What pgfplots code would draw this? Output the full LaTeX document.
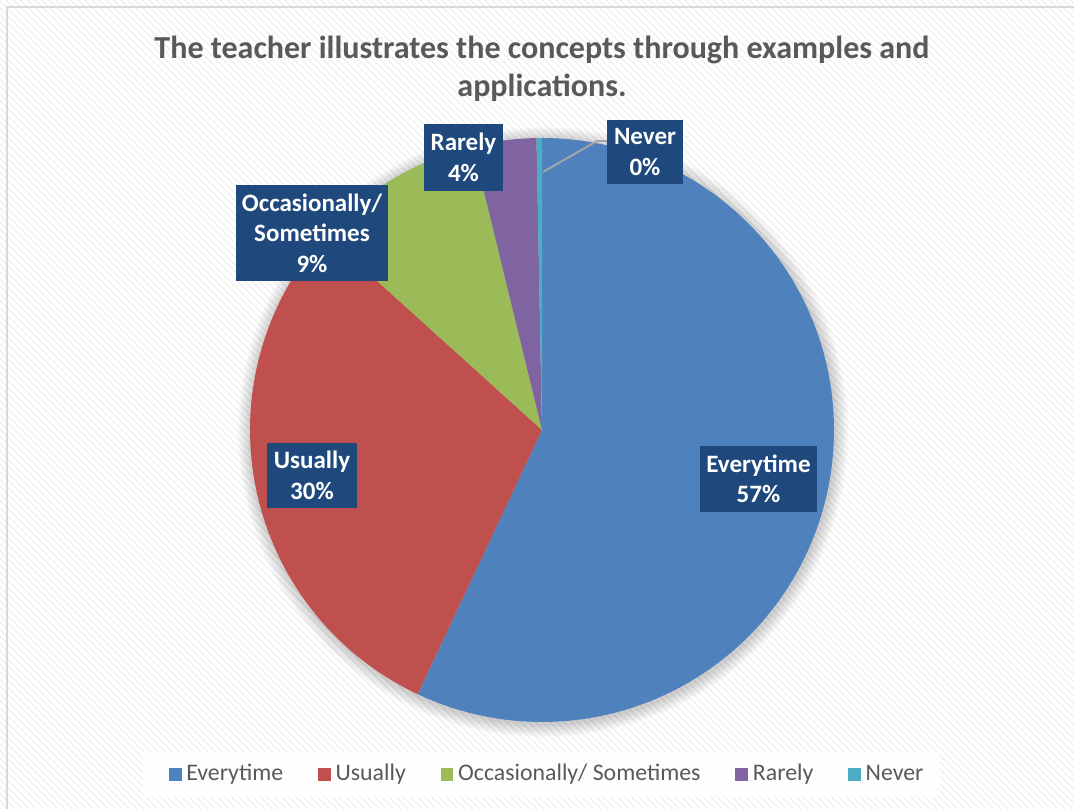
\documentclass[border=0pt]{standalone}
\usepackage{pgfplots}
\pgfplotsset{compat=1.18}
\usepackage{fontspec}
\setmainfont{Carlito}
\usetikzlibrary{patterns}
\definecolor{cEvery}{HTML}{4F81BD}
\definecolor{cUsual}{HTML}{C0504D}
\definecolor{cOcc}{HTML}{9BBB59}
\definecolor{cRare}{HTML}{8064A2}
\definecolor{cNever}{HTML}{4BACC6}
\definecolor{lblue}{HTML}{1F497D}
\definecolor{tgray}{HTML}{595959}
% shares in percent
\def\vEvery{57.0}
\def\vUsual{29.7}
\def\vOcc{9.5}
\def\vRare{3.5}
\def\vNever{0.3}
\pgfmathsetmacro\cA{0}
\pgfmathsetmacro\cB{\cA+\vEvery}
\pgfmathsetmacro\cC{\cB+\vUsual}
\pgfmathsetmacro\cD{\cC+\vOcc}
\pgfmathsetmacro\cE{\cD+\vRare}
\pgfmathsetmacro\cF{\cE+\vNever}
\begin{document}
\begin{tikzpicture}
\begin{axis}[name=ax, at={(0,0)}, anchor=south west, scale only axis,
  width=451.08pt, height=339.36pt, xmin=0, xmax=1074, ymin=0, ymax=808,
  enlargelimits=false, hide axis, clip=false,
  legend columns=-1,
  legend style={at={(0.5107,0.0415)}, anchor=center, draw=none, fill=none,
    font=\fontsize{10}{12}\selectfont, text=tgray,
    /tikz/every even column/.append style={column sep=12.6pt},
    /tikz/every odd column/.append style={column sep=0pt}},
  legend image code/.code={\fill[#1] (0pt,-2.7pt) rectangle (5.4pt,2.7pt);}]
% background
\fill[white] (axis cs:0,0) rectangle (axis cs:1074,808);
\fill[pattern=north west lines, pattern color=black!7] (axis cs:0,0) rectangle (axis cs:1074,808);
\draw[black!15, line width=0.8pt] (axis cs:7,-20) -- (axis cs:7,801) -- (axis cs:1100,801);
% title
\node[text=tgray, align=center, font=\bfseries\fontsize{13.45}{15.8}\selectfont] at (axis cs:542,739.5)
  {The teacher illustrates the concepts through examples and\\applications.};
% shadow
\pgfplotsinvokeforeach{1,...,12}{
  \fill[black, opacity=0.014] (axis cs:543,376) circle[radius={(292+#1*1.1)*0.42pt}];
}
% legend backdrop
\fill[white, opacity=0.85] (axis cs:143,11) rectangle (axis cs:940,56);
% slices
\addplot[fill=cEvery, draw=none, domain={90-3.6*\cB}:{90-3.6*\cA}, samples=120]
  ({542+292*cos(x)},{378+292*sin(x)}) -- (axis cs:542,378) -- cycle;
\addlegendentry{Everytime}
\addplot[fill=cUsual, draw=none, domain={90-3.6*\cC}:{90-3.6*\cB}, samples=80]
  ({542+292*cos(x)},{378+292*sin(x)}) -- (axis cs:542,378) -- cycle;
\addlegendentry{Usually}
\addplot[fill=cOcc, draw=none, domain={90-3.6*\cD}:{90-3.6*\cC}, samples=30]
  ({542+292*cos(x)},{378+292*sin(x)}) -- (axis cs:542,378) -- cycle;
\addlegendentry{Occasionally/ Sometimes}
\addplot[fill=cRare, draw=none, domain={90-3.6*\cE}:{90-3.6*\cD}, samples=15]
  ({542+292*cos(x)},{378+292*sin(x)}) -- (axis cs:542,378) -- cycle;
\addlegendentry{Rarely}
\addplot[fill=cNever, draw=none, domain={90-3.6*\cF}:{90-3.6*\cE}, samples=4]
  ({542+292*cos(x)},{378+292*sin(x)}) -- (axis cs:542,378) -- cycle;
\addlegendentry{Never}
% leader line
\draw[black!35, line width=0.8pt] (axis cs:543,636) -- (axis cs:597,667) -- (axis cs:607,667);
% data labels
\tikzset{lbl/.style={fill=lblue, text=white, align=center, inner sep=1pt,
  font=\bfseries\fontsize{10.5}{12.8}\selectfont}}
\node[lbl, minimum width=49.1pt, minimum height=27.7pt] at (axis cs:758.5,329) {Everytime\\57\%};
\node[lbl, minimum width=37.8pt, minimum height=27.3pt] at (axis cs:312,332.5) {Usually\\30\%};
\node[lbl, minimum width=63.8pt, minimum height=40.3pt] at (axis cs:312,575) {Occasionally/\\Sometimes\\9\%};
\node[lbl, minimum width=33.2pt, minimum height=28.1pt] at (axis cs:463.5,650.5) {Rarely\\4\%};
\node[lbl, minimum width=31.9pt, minimum height=26.9pt] at (axis cs:645,656) {Never\\0\%};
\end{axis}
\pgfresetboundingbox
\path (ax.south west) rectangle (ax.north east);
\end{tikzpicture}
\end{document}
